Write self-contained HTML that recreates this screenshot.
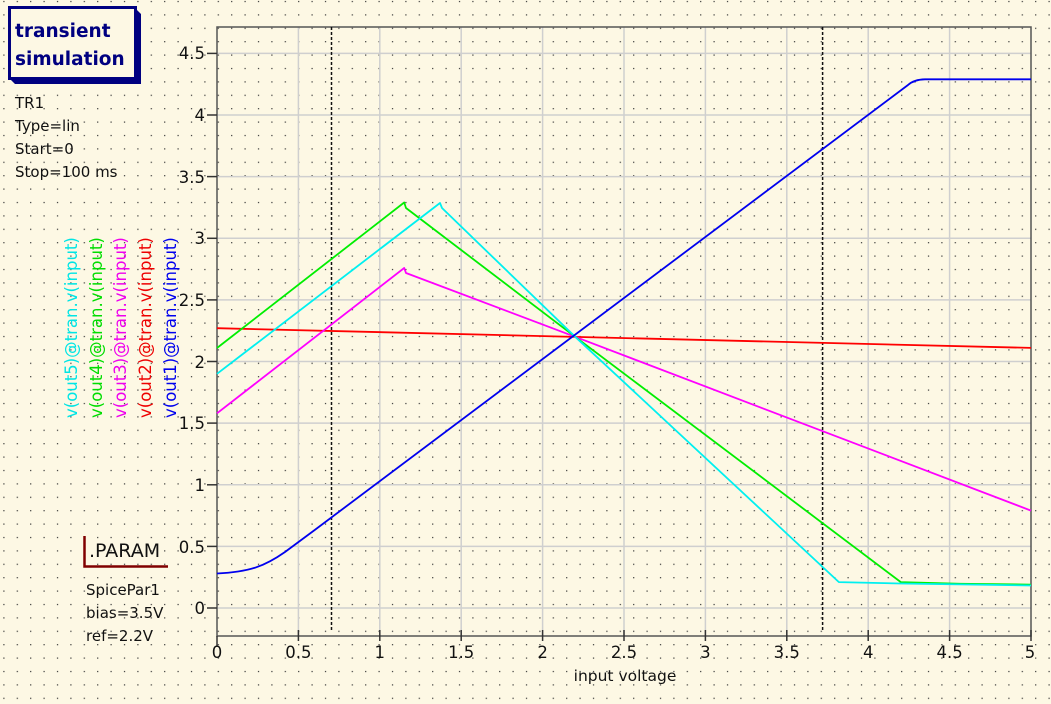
<!DOCTYPE html>
<html><head><meta charset="utf-8"><style>
html,body{margin:0;padding:0;background:#fffbe6;}
svg{display:block;font-family:"DejaVu Sans","Liberation Sans",sans-serif;}
</style></head><body>
<svg width="1051" height="704" viewBox="0 0 1051 704" xmlns="http://www.w3.org/2000/svg">
<defs>
<pattern id="dots" x="3.3" y="0.9" width="13.4" height="13.4" patternUnits="userSpaceOnUse">
<rect x="0" y="0" width="1.2" height="1.2" fill="#333"/>
</pattern>
</defs>
<rect width="1051" height="704" fill="#fdf8e4"/>
<rect width="1051" height="704" fill="url(#dots)"/>
<polygon points="10,79 15,84 141,84 141,14 136,9 136,79" fill="#000080"/>
<rect x="9.5" y="7.5" width="126" height="71" fill="#fdf8e4" stroke="#000080" stroke-width="3"/>
<text x="15" y="37" font-size="18.5" font-weight="bold" fill="#000080">transient</text>
<text x="15" y="65" font-size="18.5" font-weight="bold" fill="#000080">simulation</text>
<g font-size="15" fill="#111">
<text x="15" y="108">TR1</text>
<text x="15" y="131">Type=lin</text>
<text x="15" y="154">Start=0</text>
<text x="15" y="177">Stop=100 ms</text>
<text x="86" y="595">SpicePar1</text>
<text x="86" y="618">bias=3.5V</text>
<text x="86" y="641">ref=2.2V</text>
</g>
<text x="89" y="557" font-size="19" fill="#111">.PARAM</text>
<path d="M84.5,536 V566.5 H168" fill="none" stroke="#800000" stroke-width="2.5"/>
<g stroke="#cfcfcf" stroke-width="1.5">
<line x1="298.4" y1="27" x2="298.4" y2="636"/><line x1="379.8" y1="27" x2="379.8" y2="636"/>
<line x1="461.2" y1="27" x2="461.2" y2="636"/><line x1="542.6" y1="27" x2="542.6" y2="636"/>
<line x1="624" y1="27" x2="624" y2="636"/><line x1="705.4" y1="27" x2="705.4" y2="636"/>
<line x1="786.8" y1="27" x2="786.8" y2="636"/><line x1="868.2" y1="27" x2="868.2" y2="636"/>
<line x1="949.6" y1="27" x2="949.6" y2="636"/>
<line x1="217" y1="608" x2="1031" y2="608"/><line x1="217" y1="546.4" x2="1031" y2="546.4"/>
<line x1="217" y1="484.8" x2="1031" y2="484.8"/><line x1="217" y1="423.1" x2="1031" y2="423.1"/>
<line x1="217" y1="361.5" x2="1031" y2="361.5"/><line x1="217" y1="299.9" x2="1031" y2="299.9"/>
<line x1="217" y1="238.3" x2="1031" y2="238.3"/><line x1="217" y1="176.6" x2="1031" y2="176.6"/>
<line x1="217" y1="115" x2="1031" y2="115"/><line x1="217" y1="53.4" x2="1031" y2="53.4"/>
</g>
<rect x="217" y="27" width="814" height="609" fill="none" stroke="#555" stroke-width="1.5"/>
<g stroke="#333" stroke-width="1.5">
<line x1="207" y1="608" x2="217" y2="608"/><line x1="207" y1="546.4" x2="217" y2="546.4"/>
<line x1="207" y1="484.8" x2="217" y2="484.8"/><line x1="207" y1="423.1" x2="217" y2="423.1"/>
<line x1="207" y1="361.5" x2="217" y2="361.5"/><line x1="207" y1="299.9" x2="217" y2="299.9"/>
<line x1="207" y1="238.3" x2="217" y2="238.3"/><line x1="207" y1="176.6" x2="217" y2="176.6"/>
<line x1="207" y1="115" x2="217" y2="115"/><line x1="207" y1="53.4" x2="217" y2="53.4"/>
<line x1="217" y1="636" x2="217" y2="646"/><line x1="298.4" y1="630" x2="298.4" y2="641"/>
<line x1="379.8" y1="630" x2="379.8" y2="641"/><line x1="461.2" y1="630" x2="461.2" y2="641"/>
<line x1="542.6" y1="630" x2="542.6" y2="641"/><line x1="624" y1="630" x2="624" y2="641"/>
<line x1="705.4" y1="630" x2="705.4" y2="641"/><line x1="786.8" y1="630" x2="786.8" y2="641"/>
<line x1="868.2" y1="630" x2="868.2" y2="641"/><line x1="949.6" y1="630" x2="949.6" y2="641"/>
<line x1="1031" y1="630" x2="1031" y2="641"/>
</g>
<g stroke="#111" stroke-width="1.5" stroke-dasharray="3,2">
<line x1="331.5" y1="27" x2="331.5" y2="632"/><line x1="822.6" y1="27" x2="822.6" y2="632"/>
</g>
<g font-size="16.5" fill="#111" text-anchor="end">
<text x="205" y="614">0</text><text x="205" y="553">0.5</text><text x="205" y="491">1</text>
<text x="205" y="429">1.5</text><text x="205" y="368">2</text><text x="205" y="306">2.5</text>
<text x="205" y="244">3</text><text x="205" y="183">3.5</text><text x="205" y="121">4</text>
<text x="205" y="59">4.5</text>
</g>
<g font-size="16.5" fill="#111" text-anchor="middle">
<text x="217" y="658">0</text><text x="298.4" y="658">0.5</text><text x="379.8" y="658">1</text>
<text x="461.2" y="658">1.5</text><text x="542.6" y="658">2</text><text x="624" y="658">2.5</text>
<text x="705.4" y="658">3</text><text x="786.8" y="658">3.5</text><text x="868.2" y="658">4</text>
<text x="949.6" y="658">4.5</text><text x="1030" y="658">5</text>
</g>
<text x="625" y="681" font-size="15.5" fill="#111" text-anchor="middle">input voltage</text>
<g font-size="16.5">
<text transform="translate(77,418) rotate(-90)" fill="#00e5e5">v(out5)@tran.v(input)</text>
<text transform="translate(102,418) rotate(-90)" fill="#00dd00">v(out4)@tran.v(input)</text>
<text transform="translate(126,418) rotate(-90)" fill="#ee00ee">v(out3)@tran.v(input)</text>
<text transform="translate(151,418) rotate(-90)" fill="#ee0000">v(out2)@tran.v(input)</text>
<text transform="translate(176,418) rotate(-90)" fill="#0000ee">v(out1)@tran.v(input)</text>
</g>
<g fill="none" stroke-width="1.8" stroke-linejoin="round">
<polyline stroke="#ff0000" points="217,328.2 1031,347.9"/>
<polyline stroke="#ff00ff" points="217,413.3 404.2,268 406,273 575.2,336.8 1031,510.6"/>
<polyline stroke="#00ee00" points="217,348 404.2,202.5 406,208 575.2,336.8 900.8,582.1 960,583.8 1031,584.6"/>
<polyline stroke="#00f0f0" points="217,373.8 440,203 442,208 575.2,336.8 838.9,582.1 900,583.5 1031,585.5"/>
<path stroke="#0000ee" d="M217,573.5 C250,572 265,566 285,552 L314.7,530 L908,85 Q914,79.5 925,79.3 L1031,79.3"/>
</g>
</svg>
</body></html>
